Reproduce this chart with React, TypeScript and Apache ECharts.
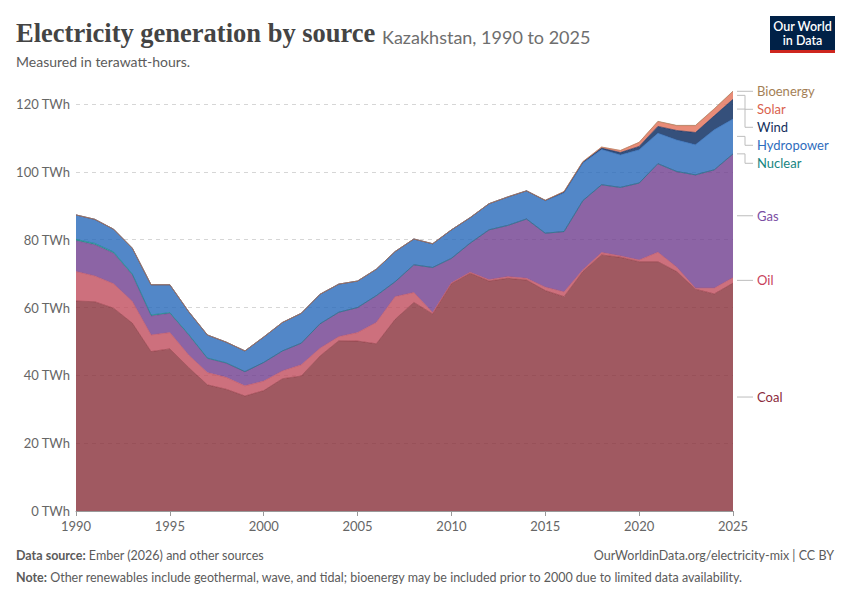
import React, { useEffect, useRef } from 'react'
import * as echarts from 'echarts'

// Years on the x axis
const years = [
  1990, 1991, 1992, 1993, 1994, 1995, 1996, 1997, 1998, 1999,
  2000, 2001, 2002, 2003, 2004, 2005, 2006, 2007, 2008, 2009,
  2010, 2011, 2012, 2013, 2014, 2015, 2016, 2017, 2018, 2019,
  2020, 2021, 2022, 2023, 2024, 2025,
]

// Generation per source, TWh
const coal = [
  61.9, 61.7, 59.8, 55.4, 47.0, 47.8, 42.3, 37.2, 35.9, 33.9,
  35.5, 39.0, 39.8, 45.7, 50.2, 50.1, 49.3, 56.5, 61.5, 58.1,
  67.0, 70.1, 67.8, 68.6, 68.1, 65.0, 63.2, 70.6, 75.5, 74.8,
  73.5, 73.5, 70.6, 65.4, 64.0, 67.2,
]
const oil = [
  8.7, 7.6, 7.2, 6.4, 4.9, 4.8, 3.7, 3.6, 3.5, 3.0,
  2.8, 2.3, 3.3, 2.3, 1.2, 2.5, 6.3, 6.7, 2.9, 0.4,
  0.3, 0.3, 0.4, 0.5, 0.5, 1.0, 1.4, 0.5, 0.7, 0.4,
  0.5, 2.8, 1.3, 0.3, 1.7, 1.6,
]
const gas = [
  9.1, 9.2, 9.0, 7.8, 5.6, 5.7, 5.9, 4.2, 4.2, 4.2,
  5.5, 5.9, 6.4, 7.2, 7.2, 7.4, 7.9, 4.4, 8.2, 13.3,
  7.2, 8.6, 14.7, 15.1, 17.5, 15.9, 17.8, 20.4, 20.0, 20.2,
  22.7, 26.1, 28.2, 33.4, 34.9, 36.5,
]
const nuclear = [
  0.4, 0.4, 0.4, 0.3, 0.3, 0.2, 0.2, 0.1, 0.1, 0,
  0, 0, 0, 0, 0, 0, 0, 0, 0, 0,
  0, 0, 0, 0, 0, 0, 0, 0, 0, 0,
  0, 0, 0, 0, 0, 0,
]
const hydro = [
  7.2, 7.1, 6.7, 7.6, 8.9, 8.2, 6.7, 6.8, 6.1, 6.1,
  7.5, 8.4, 8.8, 8.7, 8.3, 7.8, 7.8, 8.9, 7.6, 7.0,
  8.4, 7.5, 7.7, 8.4, 8.3, 9.6, 11.4, 11.1, 10.4, 9.6,
  9.8, 9.0, 9.3, 8.9, 11.8, 10.3,
]
const wind = [
  0, 0, 0, 0, 0, 0, 0, 0, 0, 0,
  0, 0, 0, 0, 0, 0, 0, 0, 0, 0,
  0, 0, 0, 0, 0, 0.1, 0.3, 0.3, 0.4, 0.7,
  1.0, 2.0, 2.8, 3.6, 4.1, 5.8,
]
const solar = [
  0, 0, 0, 0, 0, 0, 0, 0, 0, 0,
  0, 0, 0, 0, 0, 0, 0, 0, 0, 0,
  0, 0, 0, 0, 0, 0, 0.1, 0.1, 0.3, 0.6,
  1.2, 1.4, 1.4, 2.0, 2.0, 2.3,
]
const bioenergy = [
  0, 0, 0, 0, 0, 0, 0, 0, 0, 0,
  0, 0, 0, 0, 0, 0, 0, 0, 0, 0,
  0, 0, 0, 0, 0, 0, 0, 0, 0, 0,
  0, 0.1, 0.1, 0.1, 0.1, 0.1,
]

// stacking order, bottom to top
const sources = [
  { name: 'Coal', values: coal, color: '#883039', text: '#8b2a3b' },
  { name: 'Oil', values: oil, color: '#c04c5c', text: '#c8415a' },
  { name: 'Gas', values: gas, color: '#6f3d8e', text: '#7b4ea3' },
  { name: 'Nuclear', values: nuclear, color: '#00847e', text: '#16857f' },
  { name: 'Hydropower', values: hydro, color: '#2769ba', text: '#2f6dbd' },
  { name: 'Wind', values: wind, color: '#03245a', text: '#14305d' },
  { name: 'Solar', values: solar, color: '#e26f56', text: '#d9614d' },
  { name: 'Bioenergy', values: bioenergy, color: '#a2805b', text: '#a47f56' },
]

const yTicks = [0, 20, 40, 60, 80, 100, 120]

const FONT = 'Lato, "Noto Sans", sans-serif'

export default function App() {
  const chartRef = useRef<HTMLDivElement>(null)

  useEffect(() => {
    if (!chartRef.current) return
    const chart = echarts.init(chartRef.current, undefined, { renderer: 'svg' })

    const every5 = (i: number, v: string) => Number(v) % 5 === 0

    const option: any = {
      animation: false,
      grid: { left: 76, right: 117, top: 104, bottom: 89 },
      xAxis: {
        type: 'category',
        boundaryGap: false,
        data: years.map(String),
        axisLine: { show: true, lineStyle: { color: '#999', width: 1 } },
        axisTick: { show: true, length: 5, interval: every5, lineStyle: { color: '#999' } },
        splitLine: { show: false },
        axisLabel: { color: '#666', fontSize: 13, fontFamily: FONT, margin: 8, interval: every5 },
      },
      yAxis: {
        type: 'value',
        min: yTicks[0],
        max: yTicks[yTicks.length - 1],
        interval: 20,
        axisLine: { show: false },
        axisTick: { show: false },
        splitLine: { show: true, lineStyle: { color: '#d6d6d6', type: [4, 4], width: 1 } },
        axisLabel: { color: '#666', fontSize: 13, fontFamily: FONT, margin: 6, formatter: '{value} TWh' },
      },
      series: sources.map(s => ({
        name: s.name,
        type: 'line',
        stack: 'total',
        clip: false,
        showSymbol: false,
        symbol: 'none',
        data: s.values,
        lineStyle: { color: s.color, width: 0.6, opacity: 0.9 },
        areaStyle: { color: s.color, opacity: 0.8 },
        itemStyle: { color: s.color },
      })),
    }
    chart.setOption(option)

    // right-hand labels at the middle of each band in the last year
    const last = years.length - 1
    let base = 0
    const wanted = sources.map(s => {
      const v = s.values[last]
      const mid = base + v / 2
      base += v
      const p = chart.convertToPixel({ gridIndex: 0 }, [last, mid]) as number[]
      return { ...s, x: p[0], y: p[1] }
    })
    // resolve overlaps from the top down
    const ordered = [...wanted].reverse()
    const gap = 18
    let prev = -Infinity
    const placed = ordered.map(l => {
      const yl = Math.max(l.y, prev + gap)
      prev = yl
      return { ...l, yl }
    })

    const labelGraphics: any[] = []
    placed.forEach(l => {
      const x0 = l.x + 4
      const x1 = x0 + 8
      const x2 = x1 + 8
      labelGraphics.push({
        type: 'polyline',
        shape: { points: [[x0, l.y], [x1, l.y], [x1, l.yl], [x2, l.yl]] },
        style: { stroke: '#bdbdbd', lineWidth: 1, fill: null },
        silent: true,
      })
      labelGraphics.push({
        type: 'text',
        x: x2 + 4,
        y: l.yl,
        style: {
          text: l.name,
          fill: l.text,
          font: `13px ${FONT}`,
          verticalAlign: 'middle',
          align: 'left',
        },
      })
    })

    chart.setOption({
      graphic: [
        {
          type: 'text',
          x: 16,
          y: 16,
          style: {
            text: '{t|Electricity generation by source}  {s|Kazakhstan, 1990 to 2025}',
            rich: {
              t: { fontFamily: '"Liberation Serif", "DejaVu Serif", serif', fontSize: 26.5, fontWeight: 'bold', fill: '#444444', verticalAlign: 'bottom', lineHeight: 30 },
              s: { fontFamily: FONT, fontSize: 18, fill: '#6e6e6e', verticalAlign: 'bottom', lineHeight: 26 },
            },
          },
        },
        {
          type: 'text',
          x: 16,
          y: 54,
          style: { text: 'Measured in terawatt-hours.', fill: '#5b5b5b', font: `14px ${FONT}` },
        },
        // logo
        { type: 'rect', shape: { x: 770, y: 16, width: 65, height: 34 }, style: { fill: '#002147' } },
        { type: 'rect', shape: { x: 770, y: 50, width: 65, height: 3 }, style: { fill: '#ce261e' } },
        {
          type: 'text',
          x: 802.5,
          y: 33,
          style: {
            text: 'Our World\nin Data',
            fill: '#ffffff',
            font: `600 12.5px ${FONT}`,
            align: 'center',
            verticalAlign: 'middle',
            lineHeight: 14,
          },
        },
        ...labelGraphics,
        // footer
        {
          type: 'text',
          x: 16,
          y: 555,
          style: {
            text: '{b|Data source:} Ember (2026) and other sources',
            fill: '#5b5b5b',
            font: `12.5px ${FONT}`,
            verticalAlign: 'middle',
            rich: { b: { fontWeight: 'bold', fill: '#5b5b5b', fontSize: 12.5, fontFamily: FONT } },
          },
        },
        {
          type: 'text',
          x: 834,
          y: 555,
          style: {
            text: 'OurWorldinData.org/electricity-mix | CC BY',
            fill: '#5b5b5b',
            font: `12.5px ${FONT}`,
            align: 'right',
            verticalAlign: 'middle',
          },
        },
        {
          type: 'text',
          x: 16,
          y: 577,
          style: {
            text: '{b|Note:} Other renewables include geothermal, wave, and tidal; bioenergy may be included prior to 2000 due to limited data availability.',
            fill: '#5b5b5b',
            font: `12.5px ${FONT}`,
            verticalAlign: 'middle',
            rich: { b: { fontWeight: 'bold', fill: '#5b5b5b', fontSize: 12.5, fontFamily: FONT } },
          },
        },
      ],
    })

    return () => {
      chart.dispose()
    }
  }, [])

  return <div ref={chartRef} style={{ width: 850, height: 600, margin: -8 }} />
}
